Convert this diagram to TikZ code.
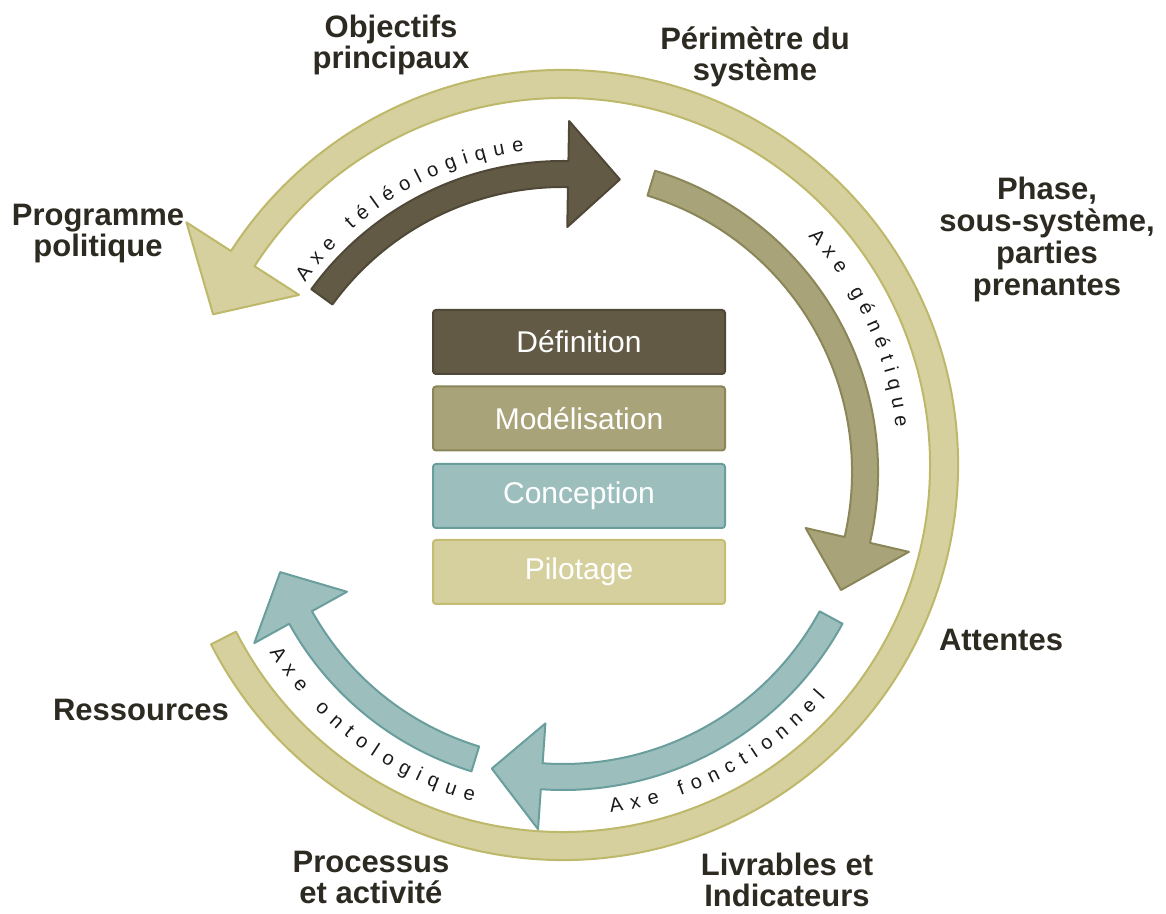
\documentclass[tikz,border=0pt]{standalone}
\usepackage{fontspec}
\setmainfont{Liberation Sans}
\usetikzlibrary{calc,decorations.text}
\definecolor{ringfill}{HTML}{D5D09D}
\definecolor{ringline}{HTML}{BEB86B}
\definecolor{darkfill}{HTML}{625A45}
\definecolor{darkline}{HTML}{4F4837}
\definecolor{olivefill}{HTML}{A9A37A}
\definecolor{oliveline}{HTML}{8B8658}
\definecolor{tealfill}{HTML}{9CBFBE}
\definecolor{tealline}{HTML}{6A9E9D}
\definecolor{pilline}{HTML}{C4BD72}
\definecolor{lblcol}{HTML}{2D2A22}
\definecolor{axecol}{HTML}{1A1A1A}
\newcommand\axefont{\fontsize{20}{20}\selectfont}
% #1 style, #2 centre, #3 mid radius, #4 shaft half width, #5 head half width,
% #6 tail angle, #7 head base angle, #8 tip angle
\newcommand\mkarrow[8]{%
  \pgfmathsetmacro\arRo{#3+#4}\pgfmathsetmacro\arRi{#3-#4}%
  \pgfmathsetmacro\arHo{#3+#5}\pgfmathsetmacro\arHi{#3-#5}%
  \draw[#1] ([shift={(#6:\arRo pt)}]#2) arc[start angle=#6, end angle=#7, radius=\arRo pt]
    -- ([shift={(#7:\arHo pt)}]#2) -- ([shift={(#8:#3pt)}]#2)
    -- ([shift={(#7:\arHi pt)}]#2) -- ([shift={(#7:\arRi pt)}]#2)
    arc[start angle=#7, end angle=#6, radius=\arRi pt] -- cycle;}
\tikzset{
  ringarrow/.style={fill=ringfill, draw=ringline, line width=2pt, line join=round},
  darkarrow/.style={fill=darkfill, draw=darkline, line width=2pt, line join=round},
  olivearrow/.style={fill=olivefill, draw=oliveline, line width=2pt, line join=round},
  tealarrow/.style={fill=tealfill, draw=tealline, line width=2pt, line join=round},
  box/.style={rectangle, rounded corners=3pt, minimum width=292pt, minimum height=64pt,
    line width=2pt, font=\fontsize{30}{30}\selectfont, text=white, inner sep=0pt},
  lbl/.style={align=center, font=\bfseries\fontsize{31}{31}\selectfont, text=lblcol, inner sep=0pt},
  axetext/.style={decorate, decoration={text along path, text align={fit to path}, text={#1}}}
}
\begin{document}
\begin{tikzpicture}[x=1pt,y=1pt]
\useasboundingbox (0,0) rectangle (1166,913);
\coordinate (C1) at (563,448);
\coordinate (C2) at (563,441);

% outer ring arrow
\mkarrow{ringarrow}{C1}{381}{14}{67}{207}{507.2}{516.7}
% inner arrows
\mkarrow{darkarrow}{C2}{298}{13}{53}{144}{89}{79}
\mkarrow{olivearrow}{C2}{302}{13}{53}{73}{-13}{-23}
\mkarrow{tealarrow}{C2}{305}{13}{53}{-28.5}{-94}{-103.5}
\mkarrow{tealarrow}{C2}{300}{13}{53}{-107}{-151}{-160.5}

% axis labels along arcs
\path[axetext={|\axefont\color{axecol}|Axe téléologique}]
  ([shift={(144.7:316pt)}]C1) arc[start angle=144.7, end angle=97.1, radius=316pt];
\path[axetext={|\axefont\color{axecol}|Axe génétique}]
  ([shift={(43:335pt)}]C1) arc[start angle=43, end angle=6.5, radius=335pt];
\path[axetext={|\axefont\color{axecol}|Axe fonctionnel}]
  ([shift={(-82.2:351pt)}]C1) arc[start angle=-82.2, end angle=-41.5, radius=351pt];
\path[axetext={|\axefont\color{axecol}|Axe ontologique}]
  ([shift={(212.5:348pt)}]C1) arc[start angle=212.5, end angle=255, radius=348pt];

% central boxes
\node[box, fill=darkfill, draw=darkline] (def) at (579,571) {Définition};
\node[box, fill=olivefill, draw=oliveline] (mod) at (579,494.5) {Modélisation};
\node[box, fill=tealfill, draw=tealline] (con) at (579,417) {Conception};
\node[box, fill=ringfill, draw=pilline] (pil) at (579,341) {Pilotage};

% outer labels
\node[lbl] (obj) at (391,868) {Objectifs\\principaux};
\node[lbl] (peri) at (755,856) {Périmètre du\\système};
\node[lbl] (prog) at (98,679) {Programme\\politique};
\node[lbl, font=\bfseries\fontsize{31}{32}\selectfont] (phase) at (1047,674) {Phase,\\sous-système,\\parties\\prenantes};
\node[lbl] (att) at (1001,273) {Attentes};
\node[lbl] (ress) at (141,203) {Ressources};
\node[lbl] (proc) at (371,36) {Processus\\et activité};
\node[lbl] (livr) at (787,33) {Livrables et\\Indicateurs};
\end{tikzpicture}
\end{document}
